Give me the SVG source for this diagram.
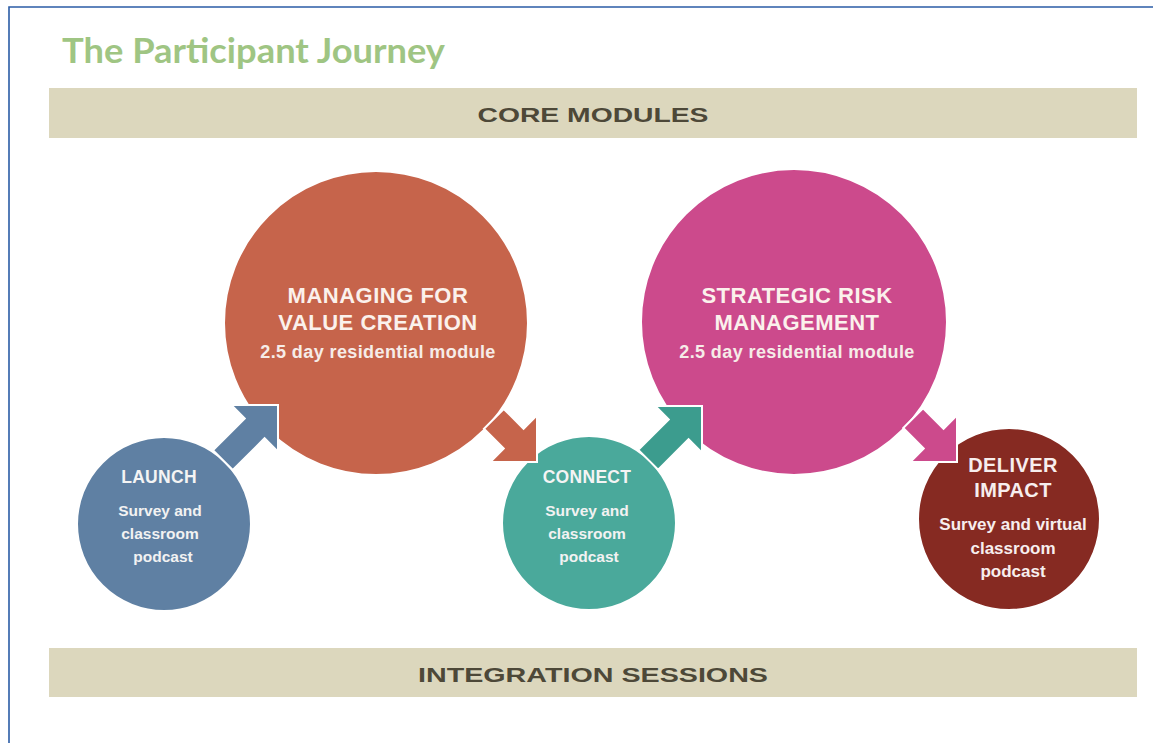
<svg xmlns="http://www.w3.org/2000/svg" width="1153" height="743" viewBox="0 0 1153 743">
  <defs>
    <style>
      .frame { stroke: #2b5ca6; stroke-width: 1.6; fill: none; }
      .title { font-family: Lato, "Open Sans", sans-serif; font-weight: bold; font-size: 35px; fill: #9fc583; }
      .band { fill: #dcd7bd; }
      .bandtxt { font-family: "Liberation Sans", Arial, sans-serif; font-weight: bold; font-size: 21px; fill: #4d4838; text-anchor: middle; }
      .node circle { stroke: #ffffff; stroke-width: 2; }
      .head { font-family: "Liberation Sans", Arial, sans-serif; font-weight: bold; font-size: 22px; fill: #fbf1ec; text-anchor: middle; letter-spacing: 0.5px; }
      .sub { font-family: "Liberation Sans", Arial, sans-serif; font-weight: bold; font-size: 18px; fill: #f6ece8; text-anchor: middle; letter-spacing: 0.4px; }
      .shead { font-family: "Liberation Sans", Arial, sans-serif; font-weight: bold; font-size: 17.5px; fill: #f4f4f4; text-anchor: middle; letter-spacing: 0.3px; }
      .ssub { font-family: "Liberation Sans", Arial, sans-serif; font-weight: bold; font-size: 15.5px; fill: #f2f2f2; text-anchor: middle; }
      .dhead { font-family: "Liberation Sans", Arial, sans-serif; font-weight: bold; font-size: 20px; fill: #f7eeee; text-anchor: middle; letter-spacing: 0.4px; }
      .dsub { font-family: "Liberation Sans", Arial, sans-serif; font-weight: bold; font-size: 17px; fill: #f7eeee; text-anchor: middle; }
      .arrow { stroke: #ffffff; stroke-width: 2; stroke-linejoin: miter; }
    </style>
  </defs>

  <rect width="1153" height="743" fill="#ffffff"/>
  <path class="frame" d="M9,743 V7 H1153"/>

  <text class="title" x="62" y="63" textLength="383" lengthAdjust="spacingAndGlyphs">The Participant Journey</text>

  <g id="core-modules">
    <rect class="band" x="49" y="88" width="1088" height="50"/>
    <text class="bandtxt" x="593" y="122" textLength="231" lengthAdjust="spacingAndGlyphs">CORE MODULES</text>
  </g>

  <g id="integration-sessions">
    <rect class="band" x="49" y="648" width="1088" height="49"/>
    <text class="bandtxt" x="593" y="682" textLength="350" lengthAdjust="spacingAndGlyphs">INTEGRATION SESSIONS</text>
  </g>

  <!-- module and step circles -->
  <g id="value-creation" class="node">
    <circle cx="376" cy="323" r="152" fill="#c6644b"/>
    <text class="head" x="378" y="303">MANAGING FOR</text>
    <text class="head" x="378" y="330">VALUE CREATION</text>
    <text class="sub" x="378" y="358">2.5 day residential module</text>
  </g>

  <g id="risk-management" class="node">
    <circle cx="794" cy="322" r="153" fill="#cc4a8c"/>
    <text class="head" x="797" y="303">STRATEGIC RISK</text>
    <text class="head" x="797" y="330">MANAGEMENT</text>
    <text class="sub" x="797" y="358">2.5 day residential module</text>
  </g>

  <g id="launch" class="node">
    <circle cx="164" cy="524" r="87" fill="#5f80a3"/>
    <text class="shead" x="159" y="483">LAUNCH</text>
    <text class="ssub" x="160" y="516">Survey and</text>
    <text class="ssub" x="160" y="539">classroom</text>
    <text class="ssub" x="163" y="562">podcast</text>
  </g>

  <g id="connect" class="node">
    <circle cx="589" cy="523" r="87" fill="#4aa99b"/>
    <text class="shead" x="587" y="483">CONNECT</text>
    <text class="ssub" x="587" y="516">Survey and</text>
    <text class="ssub" x="587" y="539">classroom</text>
    <text class="ssub" x="589" y="562">podcast</text>
  </g>

  <g id="deliver-impact" class="node">
    <circle cx="1009" cy="519" r="91" fill="#862a22"/>
    <text class="dhead" x="1013" y="472">DELIVER</text>
    <text class="dhead" x="1013" y="497">IMPACT</text>
    <text class="dsub" x="1013" y="530">Survey and virtual</text>
    <text class="dsub" x="1013" y="554">classroom</text>
    <text class="dsub" x="1013" y="577">podcast</text>
  </g>

  <!-- block arrows: tip at the origin, pointing along +x, shaft cut at the source circle -->
  <g id="connectors">
    <path class="arrow" fill="#5f80a3" transform="translate(278,405) rotate(-45)" d="M0,0 L-33,-33 L-33,-14 L-78,-14 L-78,14 L-33,14 L-33,33 Z"/>
    <path class="arrow" fill="#c6644b" transform="translate(537,462) rotate(45)" d="M0,0 L-33,-33 L-33,-14 L-61,-14 L-61,14 L-33,14 L-33,33 Z"/>
    <path class="arrow" fill="#3c9c8e" transform="translate(702,406) rotate(-45)" d="M0,0 L-33,-33 L-33,-14 L-76,-14 L-76,14 L-33,14 L-33,33 Z"/>
    <path class="arrow" fill="#cc4a8c" transform="translate(957,462) rotate(45)" d="M0,0 L-33,-33 L-33,-14 L-62,-14 L-62,14 L-33,14 L-33,33 Z"/>
  </g>
</svg>
